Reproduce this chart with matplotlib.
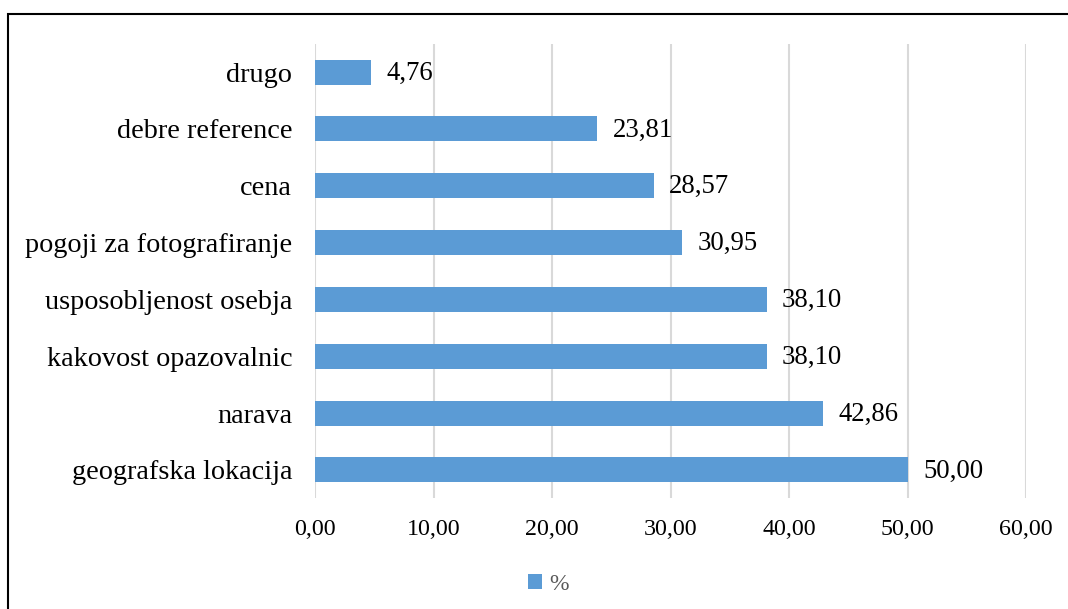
import matplotlib
matplotlib.use("Agg")
import matplotlib.pyplot as plt
from matplotlib.patches import Rectangle
from matplotlib.ticker import FuncFormatter

# ── Podatki ────────────────────────────────────────────
kategorije = ["geografska lokacija", "narava", "kakovost opazovalnic",
              "usposobljenost osebja", "pogoji za fotografiranje", "cena",
              "debre reference", "drugo"]
vrednosti = [50.00, 42.86, 38.10, 38.10, 30.95, 28.57, 23.81, 4.76]
oznaka_serije = "%"

plt.rcParams['font.family'] = ['Liberation Serif', 'DejaVu Serif']
BARVA = '#5B9BD5'

fig = plt.figure(figsize=(10.68, 6.09), dpi=100)
ax = fig.add_axes([0.295, 0.1816, 0.6657, 0.7468])

y = range(len(kategorije))
bars = ax.barh(y, vrednosti, height=0.44, color=BARVA, label=oznaka_serije, zorder=3)
for b, v in zip(bars, vrednosti):
    ax.text(b.get_width() + 1.3, b.get_y() + b.get_height() / 2 - 0.02,
            f"{v:.2f}".replace('.', ','), va='center', ha='left', fontsize=19.3)

ax.set_yticks(list(y))
ax.set_yticklabels(kategorije, fontsize=20.3)
ax.set_ylim(-0.5, len(kategorije) - 0.5)
ax.set_xlim(0, 60)
ax.set_xticks(range(0, 61, 10))
ax.xaxis.set_major_formatter(FuncFormatter(lambda v, p: f"{v:.2f}".replace('.', ',')))
ax.tick_params(axis='x', labelsize=17.3, length=0, pad=14.5)
ax.tick_params(axis='y', length=0, pad=16.5)
ax.grid(True, axis='x', color='#D9D9D9', linewidth=1.5, zorder=0)
for s in ax.spines.values():
    s.set_visible(False)

fig.legend(loc='center', bbox_to_anchor=(548 / 1068, 1 - 584 / 609), frameon=False,
           fontsize=17, handlelength=0.6, handleheight=0.6, handletextpad=0.3,
           labelcolor='#595959')

# okvir slike (viden le zgoraj in levo)
fig.patches.append(Rectangle((8 / 1068, -0.1), 1.2, 1 - 14 / 609 + 0.1,
                             transform=fig.transFigure, fill=False,
                             edgecolor='black', linewidth=1.5))

fig.savefig("out.png", dpi=100)
